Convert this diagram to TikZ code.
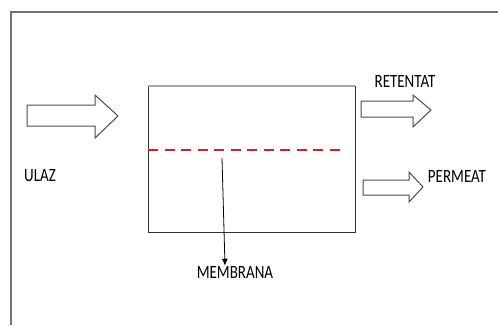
\documentclass[tikz,border=0pt]{standalone}
\usepackage{fontspec}
\setmainfont{Carlito}
\usetikzlibrary{arrows.meta}
\definecolor{membred}{RGB}{205,35,40}

\begin{document}
\begin{tikzpicture}[x=1pt,y=-1pt,
  lbl/.style={font=\fontsize{15}{17}\selectfont, inner sep=0pt, yscale=1.25, transform shape},
  blockarrow/.style={draw=black!70, line width=1pt, fill=white, line join=miter}]
\useasboundingbox (0,0) rectangle (498,325);
\fill[white] (0,0) rectangle (498,325);

% frame
\draw[black!55, line width=1.3pt] (498,12) -- (11,12) -- (11,325);

% membrane module
\draw[black!80, line width=0.9pt] (148,86) rectangle (355,232);
\draw[black!35, line width=1.6pt] (148,86) -- (355,86);
\draw[membred, line width=2.2pt, dash pattern=on 10pt off 6.5pt] (148,150) -- (344,150);

% streams
\draw[blockarrow] (27,105) -- (95,105) -- (95,95) -- (118,116) -- (95,138) -- (95,126) -- (27,126) -- cycle;
\node[lbl] (ulaz) at (40,176) {ULAZ};

\draw[blockarrow] (361,101) -- (413,101) -- (413,95) -- (431,110) -- (413,127) -- (413,117) -- (361,117) -- cycle;
\node[lbl] (retentat) at (405,81) {RETENTAT};

\draw[blockarrow] (363,180) -- (409,180) -- (409,172) -- (423,187) -- (409,202) -- (409,195) -- (363,195) -- cycle;
\node[lbl] (permeat) at (457,176) {PERMEAT};

% membrane label
\coordinate (mstart) at (222,158);
\node[lbl] (membrana) at (235,272) {MEMBRANA};
\coordinate (mend) at ([xshift=-10pt]membrana.north);
\draw[black, line width=0.8pt, -{Latex[length=7pt,width=6pt]}] (mstart) -- (mend);
\end{tikzpicture}
\end{document}
